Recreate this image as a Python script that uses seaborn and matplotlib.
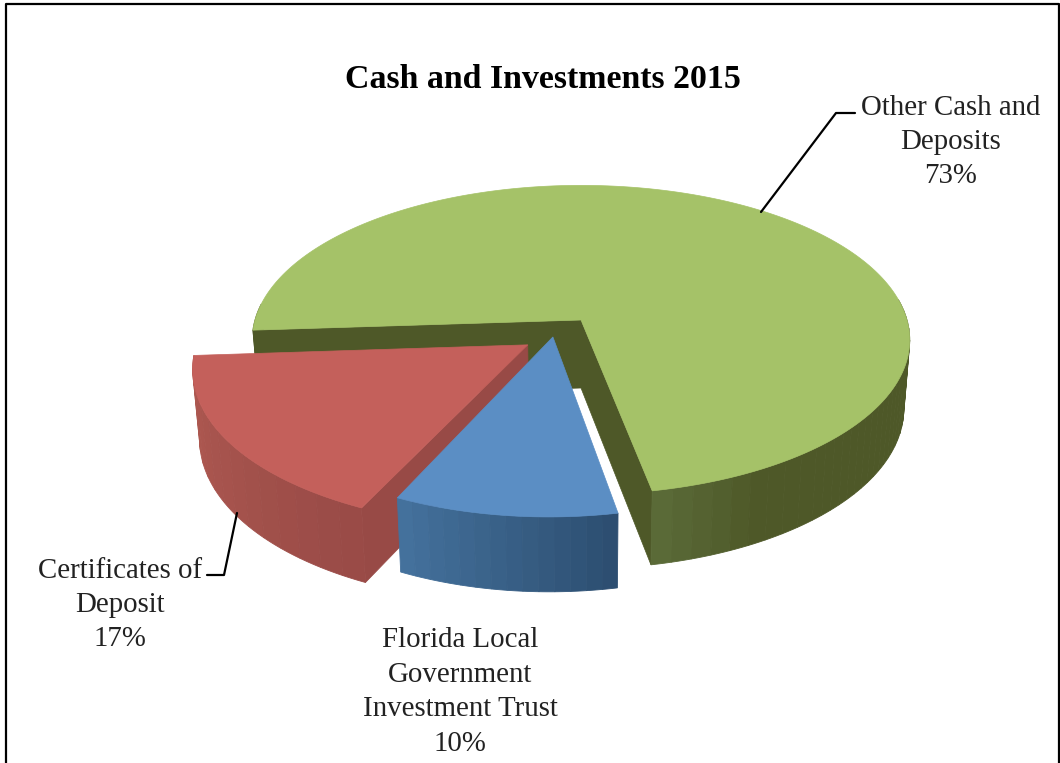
import numpy as np
import matplotlib
matplotlib.use("Agg")
import matplotlib.pyplot as plt
import seaborn as sns

# data -------------------------------------------
title = "Cash and Investments 2015"
categories = ["Other Cash and\nDeposits", "Florida Local\nGovernment\nInvestment Trust", "Certificates of\nDeposit"]
shares = [73, 10, 17]

# style ------------------------------------------
top_colors = ["#a5c268", "#5b8ec4", "#c4605b"]
rim_left = ["#5a6a37", "#44719c", "#b05a52"]
rim_right = ["#4e5828", "#2b4c6e", "#984a46"]
wall_colors = ["#4e5828", "#2b4c6e", "#984a46"]
explode = [(0, 0), (-0.085, -0.11), (-0.16, -0.16)]
width_scale = [1.0, 0.957, 0.995]
walls_shown = [(0, -1), (), (-1,)]
rim_fade = [0.06, 1.0, 1.0]
n_bands = [40, 14, 14]
start_angle = -79
cx, cy = 581, 320
f, g, k = 326, 152, 0.129
shrink = 0.982


def project(u, v):
    # disc coordinates to picture coordinates, near edge drawn larger
    w = 1 + k * v
    return cx + f * u / w, cy - g * v / w


def lower(x, y):
    # same point on the bottom face of the pie, a bit deeper towards the front
    return cx + (x - cx) * shrink, y + 68 + 0.035 * (y - cy)


def mix(c1, c2, t):
    a = np.array(matplotlib.colors.to_rgb(c1))
    b = np.array(matplotlib.colors.to_rgb(c2))
    return tuple(a + (b - a) * min(t, 1))


sns.set_theme(style="white")
plt.rcParams['font.family'] = ['Liberation Serif', 'DejaVu Serif']

fig, ax = plt.subplots(figsize=(10.6, 7.63), dpi=100)
fig.subplots_adjust(0, 0, 1, 1)
ax.set_xlim(0, 1060)
ax.set_ylim(763, 0)
ax.axis("off")

# chart frame
ax.plot([5.5, 5.5, 1058.5, 1058.5], [763, 3.5, 3.5, 763], color="black", lw=1.6)

# green runs anticlockwise from the start angle, the others clockwise
spans = [(start_angle, start_angle + shares[0] * 3.6),
         (start_angle - shares[1] * 3.6, start_angle),
         (start_angle - (shares[1] + shares[2]) * 3.6, start_angle - shares[1] * 3.6)]

for i in [0, 2, 1]:
    a0, a1 = spans[i]
    du, dv = explode[i]
    th = np.radians(np.linspace(a0, a1, 240))
    xs, ys = project(np.cos(th) * width_scale[i] + du, np.sin(th) + dv)
    apex_x, apex_y = project(du, dv)
    bx, by = lower(xs, ys)
    abx, aby = lower(apex_x, apex_y)

    # flat cut walls
    for j in walls_shown[i]:
        ax.fill([apex_x, xs[j], bx[j], abx], [apex_y, ys[j], by[j], aby],
                color=wall_colors[i], lw=0.5)

    # curved rim, banded shading
    front = np.sin(th) < 0.12
    bands = np.array_split(np.arange(len(th))[front], n_bands[i])
    for idx in bands:
        idx = np.r_[idx, min(idx[-1] + 1, len(th) - 1)]
        frac = (idx[0] / (len(th) - 1)) / rim_fade[i]
        c = mix(rim_left[i], rim_right[i], frac)
        ax.fill(np.r_[xs[idx], bx[idx][::-1]], np.r_[ys[idx], by[idx][::-1]],
                color=c, lw=0.6)

    ax.fill(np.r_[apex_x, xs], np.r_[apex_y, ys], color=top_colors[i], lw=0.5)

# labels -----------------------------------------
ax.text(543, 79, title, ha="center", va="center", fontsize=24.4, fontweight="bold", color="black")
lab = dict(ha="center", va="center", fontsize=20.8, color="#222222", linespacing=1.42)
ax.text(951, 142, f"{categories[0]}\n{shares[0]}%", **lab)
ax.text(120, 605, f"{categories[2]}\n{shares[2]}%", **lab)
ax.text(460, 692, f"{categories[1]}\n{shares[1]}%", **lab)

# leader lines
ax.plot([761, 836, 855], [212, 113, 113], color="black", lw=1.6, zorder=5)
ax.plot([237, 224, 207], [513, 575, 575], color="black", lw=1.6, zorder=1)

fig.savefig("out.png", dpi=100)
